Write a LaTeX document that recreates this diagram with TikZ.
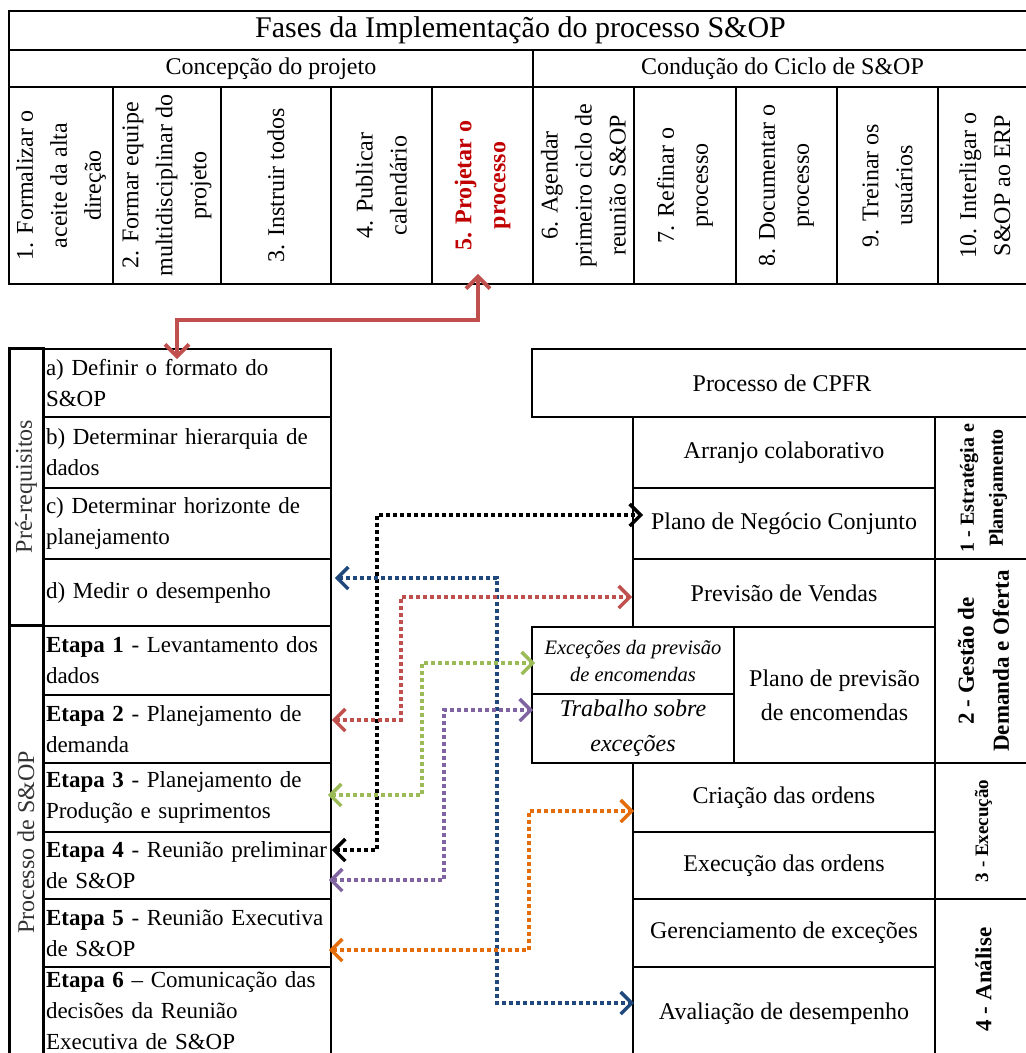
\documentclass[tikz,border=0pt]{standalone}
\usepackage{fontspec}
\setmainfont{Liberation Serif}
\usepackage{xcolor}
\usepackage{tikz}
\usetikzlibrary{arrows.meta,positioning,shapes}
\definecolor{linkred}{RGB}{192,80,77}
\definecolor{linkblue}{RGB}{31,73,125}
\definecolor{linkgreen}{RGB}{155,187,89}
\definecolor{linkpurple}{RGB}{128,100,162}
\definecolor{linkorange}{RGB}{228,108,10}
\definecolor{fasered}{RGB}{192,0,0}
\tikzset{
  cell/.style={draw, line width=1.6pt, inner sep=0pt, align=center},
  lcell/.style={cell, align=left, inner xsep=3pt, text width=282pt, font=\fontsize{23}{31}\selectfont},
  vcell/.style={cell, rotate=90, font=\fontsize{24}{34}\selectfont},
  sidecell/.style={vcell, line width=3pt, text=black!80, font=\fontsize{24}{31}\selectfont},
  stagecell/.style 2 args={vcell, font=\fontsize{#1}{#2}\selectfont\bfseries},
  link/.style={line width=3.5pt, dash pattern=on 4pt off 3pt, >={Straight Barb[length=11pt,width=22pt]}, <->},
}

\begin{document}
\begin{tikzpicture}[x=1pt, y=-1pt, font=\fontsize{24}{31}\selectfont]
    \useasboundingbox (0,0) rectangle (1026,1053);

    \node[cell, minimum width=1023pt, minimum height=39pt, font=\fontsize{30}{36}\selectfont] (fases) at (520.5,30.5) {Fases da Implementação do processo S\&OP};
    \node[cell, minimum width=524pt, minimum height=37pt] (concepcao) at (271,68.5) {Concepção do projeto};
    \node[cell, minimum width=499pt, minimum height=37pt] (conducao) at (782.5,68.5) {Condução do Ciclo de S\&OP};

    \node[vcell, minimum width=197pt, minimum height=104pt] (f1) at (61,185.5) {1. Formalizar o\\aceite da alta\\direção};
    \node[vcell, minimum width=197pt, minimum height=108pt] (f2) at (167,185.5) {2. Formar equipe\\multidisciplinar do\\projeto};
    \node[vcell, minimum width=197pt, minimum height=110pt] (f3) at (276,185.5) {3. Instruir todos};
    \node[vcell, minimum width=197pt, minimum height=101pt] (f4) at (381.5,185.5) {4. Publicar\\calendário};
    \node[vcell, minimum width=197pt, minimum height=101pt, text=fasered, font=\fontsize{24}{34}\selectfont\bfseries] (f5) at (482.5,185.5) {5. Projetar o\\processo};
    \node[vcell, minimum width=197pt, minimum height=101pt] (f6) at (583.5,185.5) {6. Agendar\\primeiro ciclo de\\reunião S\&OP};
    \node[vcell, minimum width=197pt, minimum height=102pt] (f7) at (685,185.5) {7. Refinar o\\processo};
    \node[vcell, minimum width=197pt, minimum height=101pt] (f8) at (786.5,185.5) {8. Documentar o\\processo};
    \node[vcell, minimum width=197pt, minimum height=101pt] (f9) at (887.5,185.5) {9. Treinar os\\usuários};
    \node[vcell, minimum width=197pt, minimum height=94pt] (f10) at (985,185.5) {10. Interligar o\\S\&OP ao ERP};

    \node[lcell, minimum height=68pt] (pa) at (187,383) {a) Definir o formato do\\S\&OP};
    \node[lcell, minimum height=71pt] (pb) at (187,452.5) {b) Determinar hierarquia de\\dados};
    \node[lcell, minimum height=71pt] (pc) at (187,523.5) {c) Determinar horizonte de\\planejamento};
    \node[lcell, minimum height=67pt] (pd) at (187,592.5) {d) Medir o desempenho};
    \node[lcell, minimum height=69pt] (e1) at (187,660.5) {\textbf{Etapa 1} - Levantamento dos\\dados};
    \node[lcell, minimum height=68pt] (e2) at (187,729) {\textbf{Etapa 2} - Planejamento de\\demanda};
    \node[lcell, minimum height=69pt] (e3) at (187,797.5) {\textbf{Etapa 3} - Planejamento de\\Produção e suprimentos};
    \node[lcell, minimum height=67pt] (e4) at (187,865.5) {\textbf{Etapa 4} - Reunião preliminar\\de S\&OP};
    \node[lcell, minimum height=68pt] (e5) at (187,933) {\textbf{Etapa 5} - Reunião Executiva\\de S\&OP};
    \node[lcell, minimum height=88pt] (e6) at (187,1011) {\textbf{Etapa 6} -- Comunicação das\\decisões da Reunião\\Executiva de S\&OP};
    \node[sidecell, minimum width=277pt, minimum height=34pt] (prereq) at (26,486.5) {Pré-requisitos};
    \node[sidecell, minimum width=435pt, minimum height=34pt] (processo) at (26,842.5) {Processo de S\&OP};

    \node[cell, minimum width=500pt, minimum height=68pt] (cpfr) at (782,383) {Processo de CPFR};
    \node[cell, minimum width=302pt, minimum height=71pt] (arranjo) at (784,452.5) {Arranjo colaborativo};
    \node[cell, minimum width=302pt, minimum height=71pt] (plano) at (784,523.5) {Plano de Negócio Conjunto};
    \node[cell, minimum width=302pt, minimum height=68pt] (previsao) at (784,593) {Previsão de Vendas};
    \node[cell, minimum width=202pt, minimum height=67pt, font=\fontsize{20.5}{27}\selectfont\itshape] (excecoes) at (633,660.5) {Exceções da previsão\\de encomendas};
    \node[cell, minimum width=202pt, minimum height=69pt, font=\fontsize{24}{35}\selectfont\itshape] (trabalho) at (633,728.5) {Trabalho sobre\\exceções};
    \node[cell, minimum width=201pt, minimum height=136pt, font=\fontsize{24}{34}\selectfont] (encomendas) at (834.5,695) {Plano de previsão\\de encomendas};
    \node[cell, minimum width=302pt, minimum height=69pt] (criacao) at (784,797.5) {Criação das ordens};
    \node[cell, minimum width=302pt, minimum height=67pt] (execucao) at (784,865.5) {Execução das ordens};
    \node[cell, minimum width=302pt, minimum height=68pt] (gerencia) at (784,933) {Gerenciamento de exceções};
    \node[cell, minimum width=302pt, minimum height=93pt] (avaliacao) at (784,1013.5) {Avaliação de desempenho};
    \node[stagecell={20}{29}, minimum width=142pt, minimum height=97pt] (estrategia) at (983.5,488) {1 - Estratégia e\\Planejamento};
    \node[stagecell={23}{35}, minimum width=204pt, minimum height=97pt] (gestao) at (983.5,661) {2 - Gestão de\\Demanda e Oferta};
    \node[stagecell={19}{25}, minimum width=136pt, minimum height=97pt] (execucaost) at (983.5,831) {3 - Execução};
    \node[stagecell={23}{33}, minimum width=161pt, minimum height=97pt] (analise) at (983.5,979.5) {4 - Análise};

    \draw[line width=4pt, linkred, >={Straight Barb[length=12pt,width=24pt]}, <->] ([xshift=-4.5pt,yshift=11pt]f5.west) -- ++(0,46) -| ([xshift=-10pt,yshift=-11pt]pa.north);

    \draw[link, black] ([yshift=15.5pt]e4.east) -- ++(45,0) |- ([xshift=11pt,yshift=8.5pt]plano.west);
    \draw[link, linkblue] ([xshift=3pt,yshift=14.5pt]pd.east) -- ++(162,0) |- ([xshift=2pt,yshift=10.5pt]avaliacao.west);
    \draw[link, linkred] ([yshift=9pt]e2.east) -- ++(69,0) |- ([yshift=-4pt]previsao.west);
    \draw[link, linkgreen] ([xshift=-4pt,yshift=2.5pt]e3.east) -- ++(94,0) |- ([xshift=4pt,yshift=-2.5pt]excecoes.west);
    \draw[link, linkpurple] ([xshift=-3pt,yshift=-14.5pt]e4.east) -- ++(115,0) |- ([xshift=2pt,yshift=18.5pt]trabalho.west);
    \draw[link, linkorange] ([xshift=-3pt,yshift=-17pt]e5.east) -- ++(200,0) |- ([xshift=2pt,yshift=-13.5pt]criacao.west);
\end{tikzpicture}
\end{document}
